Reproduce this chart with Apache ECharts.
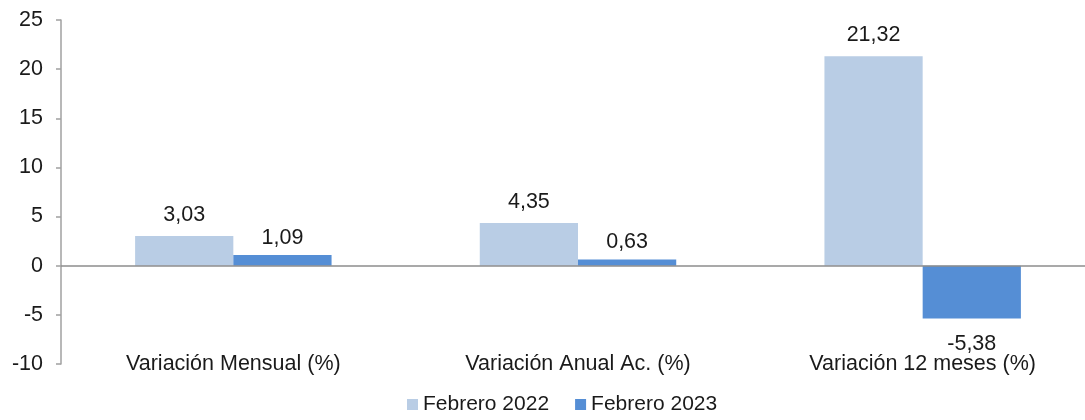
<!DOCTYPE html>
<html>
<head>
<meta charset="utf-8">
<script src="https://cdn.jsdelivr.net/npm/echarts@6/dist/echarts.min.js"></script>
<style>
    html, body { margin: 0; padding: 0; background: #fff; }
    #chart { width: 1085px; height: 420px; }
</style>
</head>
<body>
<div id="chart"></div>
<script>
// categorías y valores
const categories = ['Variación Mensual (%)', 'Variación Anual Ac. (%)', 'Variación 12 meses (%)'];
const feb2022 = [3.03, 4.35, 21.32];
const feb2023 = [1.09, 0.63, -5.38];
const seriesNames = ['Febrero 2022', 'Febrero 2023'];

let chart = echarts.init(document.getElementById('chart'));

// etiqueta con coma decimal
function fmt(p) {
    return Number(p.value).toFixed(2).replace('.', ',');
}

function makeLabel(dist) {
    return {
        show: true,
        position: 'top',
        formatter: fmt,
        fontFamily: 'Liberation Sans, Arial',
        fontSize: 21.5,
        color: '#1a1a1a',
        distance: dist
    };
}

let option = {
    animation: false,
    textStyle: { fontFamily: 'Liberation Sans, Arial' },
    grid: { left: 61, width: 1034, top: 20, bottom: 56, containLabel: false, outerBoundsMode: 'none' },
    legend: {
        bottom: 0,
        left: 402,
        itemWidth: 11,
        itemHeight: 11,
        itemGap: 26,
        icon: 'rect',
        textStyle: { fontSize: 21, color: '#1a1a1a' },
        data: seriesNames
    },
    xAxis: {
        type: 'category',
        data: categories,
        axisLine: { show: false, onZero: false },
        axisTick: { show: false },
        axisLabel: { fontSize: 21.5, color: '#1a1a1a', margin: 0, verticalAlign: 'middle' }
    },
    yAxis: {
        type: 'value',
        min: -10,
        max: 25,
        interval: 5,
        axisLine: { show: true, lineStyle: { color: '#a0a0a0', width: 1.5 } },
        axisTick: { show: true, length: 5, lineStyle: { color: '#a0a0a0', width: 1.5 } },
        axisLabel: { fontSize: 21.5, color: '#1a1a1a', margin: 18 },
        splitLine: { show: false }
    },
    series: [{
        name: seriesNames[0],
        type: 'bar',
        data: feb2022,
        barGap: '0%',
        barCategoryGap: '43%',
        itemStyle: { color: '#B9CDE5' },
        label: makeLabel(10),
        markLine: {
            silent: true,
            symbol: 'none',
            label: { show: false },
            lineStyle: { color: '#8c8c8c', type: 'solid', width: 1.5 },
            data: [{ yAxis: 0 }]
        }
    }, {
        name: seriesNames[1],
        type: 'bar',
        // etiqueta del negativo debajo de la barra
        data: feb2023.map(function (v) {
            if (v < 0) {
                return { value: v, label: { position: 'bottom', distance: 14 } };
            }
            return v;
        }),
        itemStyle: { color: '#558ED5' },
        label: makeLabel(6),
        z: 3
    }]
};

chart.setOption(option);
</script>
</body>
</html>
